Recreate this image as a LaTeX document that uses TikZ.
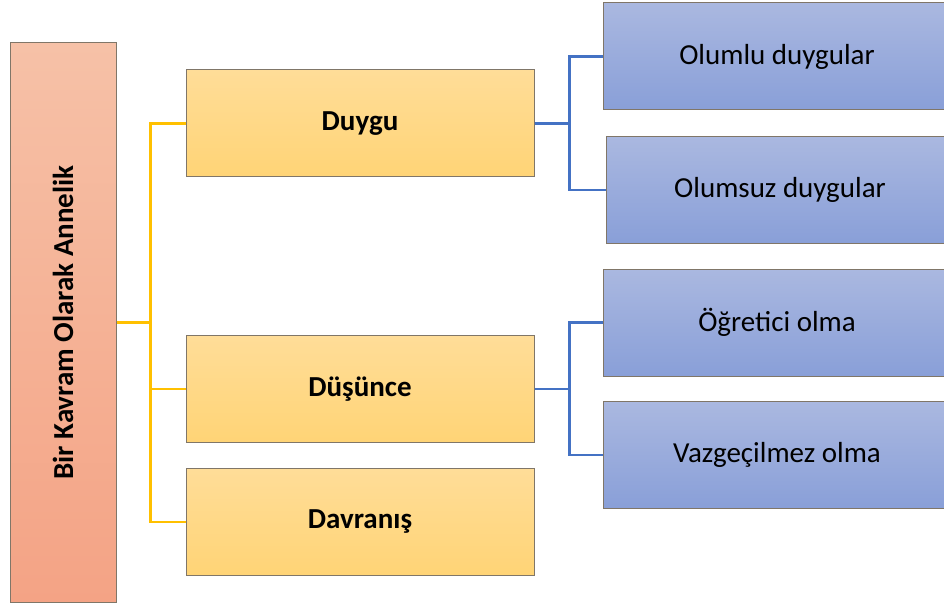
\documentclass[tikz,border=0pt]{standalone}
\usepackage{fontspec}
\setmainfont{Carlito}
\usetikzlibrary{positioning}

\definecolor{kenar}{RGB}{128,118,104}
\definecolor{sariust}{RGB}{255,221,152}
\definecolor{sarialt}{RGB}{255,212,118}
\definecolor{maviust}{RGB}{170,184,224}
\definecolor{mavialt}{RGB}{137,159,216}
\definecolor{pembeust}{RGB}{246,193,167}
\definecolor{pembealt}{RGB}{244,163,133}
\definecolor{sarihat}{RGB}{255,192,0}
\definecolor{mavihat}{RGB}{68,114,196}

\tikzset{
  kutu/.style={draw=kenar, line width=1pt, inner sep=0pt,
    minimum width=348pt, minimum height=107pt},
  anakutu/.style={kutu, top color=pembeust, bottom color=pembealt,
    minimum width=106pt, minimum height=559pt,
    font=\bfseries\fontsize{29}{34}\selectfont},
  konu/.style={kutu, top color=sariust, bottom color=sarialt,
    font=\bfseries\fontsize{29}{34}\selectfont},
  alt/.style={kutu, top color=maviust, bottom color=mavialt,
    font=\fontsize{29}{34}\selectfont},
  sari/.style={draw=sarihat, line width=2.4pt},
  mavi/.style={draw=mavihat, line width=2.4pt}
}

\begin{document}
\begin{tikzpicture}[x=1pt,y=-1pt]
  \useasboundingbox (0,0) rectangle (944,604);
  \clip (0,0) rectangle (944,604);

  % ana kavram
  \node[anakutu] (ana) at (63,322.5) {\rotatebox{90}{Bir Kavram Olarak Annelik}};

  % boyutlar
  \node[konu] (duygu) at (360,123.5) {Duygu};
  \node[konu] (dusunce) at (360,389) {Düşünce};
  \node[konu] (davranis) at (360,522) {Davranış};

  % alt basliklar
  \node[alt] (olumlu) at (777,56.5) {Olumlu duygular};
  \node[alt] (olumsuz) at (780,190) {Olumsuz duygular};
  \node[alt] (ogretici) at (777,322.5) {Öğretici olma};
  \node[alt] (vazgec) at (777,455) {Vazgeçilmez olma};

  % baglantilar
  \foreach \hedef in {duygu, dusunce, davranis} {
    \draw[sari] (ana.east) -- ++(34,0) |- (\hedef.west);
  }
  \foreach \kaynak/\hedef in {duygu/olumlu, duygu/olumsuz, dusunce/ogretici, dusunce/vazgec} {
    \draw[mavi] (\kaynak.east) -- ++(35,0) |- (\hedef.west);
  }
\end{tikzpicture}
\end{document}
